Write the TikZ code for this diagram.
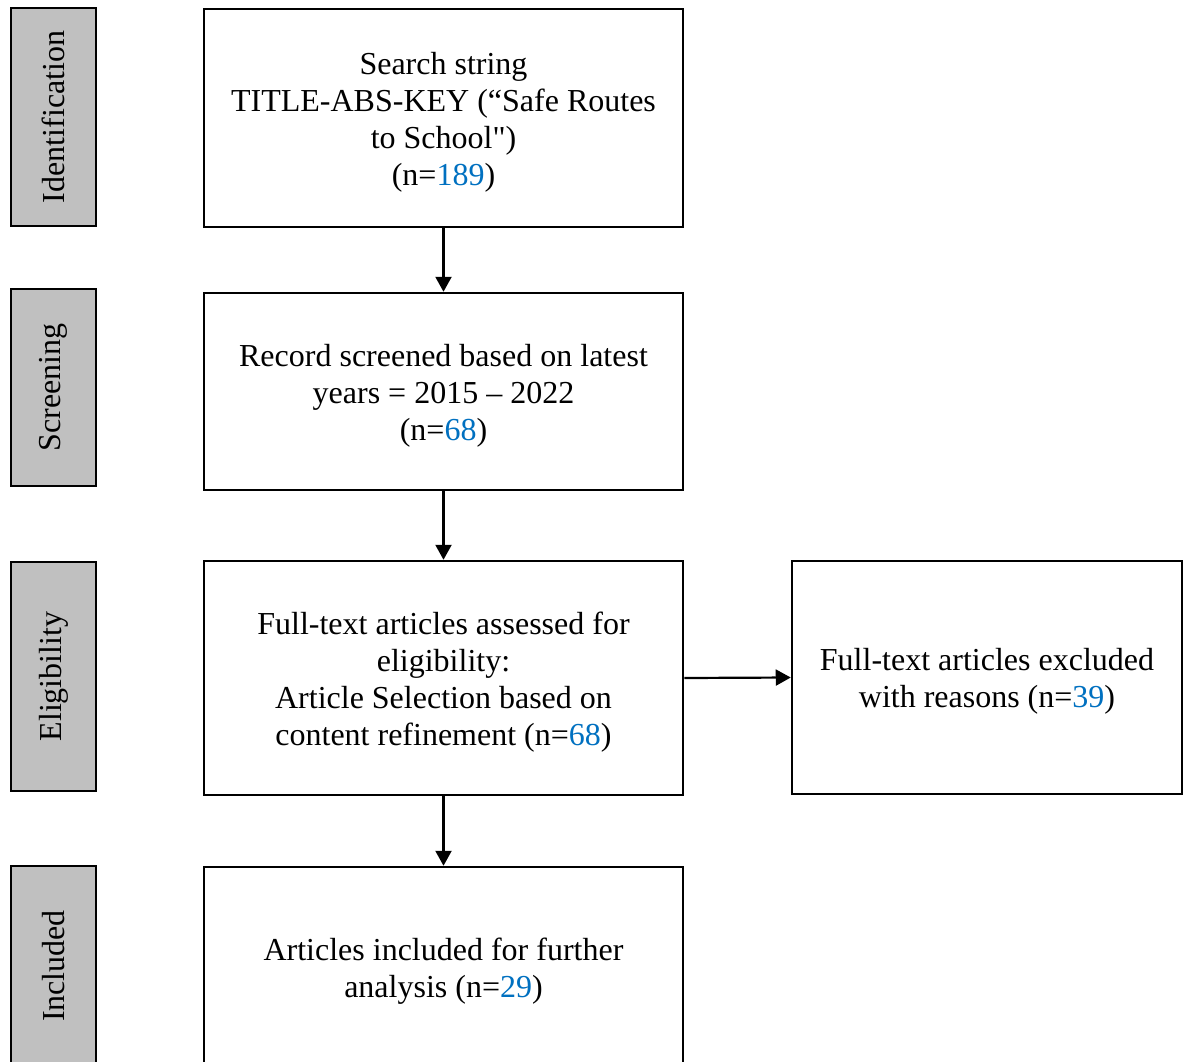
\documentclass[tikz,border=0pt]{standalone}
\usepackage{fontspec}
\setmainfont{Liberation Serif}[Ligatures=TeXOff]
\usetikzlibrary{arrows.meta}
\definecolor{barfill}{RGB}{192,192,192}
\definecolor{numblue}{RGB}{0,112,192}
\newcommand{\nb}[1]{\textcolor{numblue}{#1}}
\newcommand{\topstrut}{\rule{0pt}{30pt}}
\begin{document}
\begin{tikzpicture}[x=1pt,y=1pt,
  mainbox/.style={draw, line width=2.5pt, minimum width=479pt, align=center, inner sep=0pt,
    font=\fontsize{32}{37}\selectfont},
  phasebar/.style={draw, line width=2.5pt, fill=barfill, minimum height=85pt, rotate=90,
    inner sep=0pt, font=\fontsize{32}{37}\selectfont},
  arr/.style={line width=2.2pt, -{Triangle[length=15pt,width=16pt]}}]
\useasboundingbox (0,0) rectangle (1184,-1061);
\clip (0,0) rectangle (1184,-1061);
% phase bars
\node[phasebar, minimum width=218pt] (pid) at (53.5,-117) {Identification};
\node[phasebar, minimum width=197pt] (psc) at (53.5,-387.5) {Screening};
\node[phasebar, minimum width=229pt] (pel) at (53.5,-676.5) {Eligibility};
\node[phasebar, minimum width=200pt] (pin) at (53.5,-966) {Included};
% main boxes
\node[mainbox, minimum height=218pt] (b1) at (443.5,-118)
  {\topstrut Search string\\TITLE-ABS-KEY (“Safe Routes\\to School")\\(n=\nb{189})};
\node[mainbox, minimum height=197pt] (b2) at (443.5,-391.5)
  {\topstrut Record screened based on latest\\years = 2015 – 2022\\(n=\nb{68})};
\node[mainbox, minimum height=234pt] (b3) at (443.5,-678)
  {\topstrut Full-text articles assessed for\\eligibility:\\Article Selection based on\\content refinement (n=\nb{68})};
\node[mainbox, minimum height=200pt] (b4) at (443.5,-967)
  {\topstrut Articles included for further\\analysis (n=\nb{29})};
\node[mainbox, minimum width=390pt, minimum height=233pt] (ex) at (987,-677.5)
  {\topstrut Full-text articles excluded\\with reasons (n=\nb{39})};
% connectors
\draw[arr] (b1.south) -- (b2.north);
\draw[arr] (b2.south) -- (b3.north);
\draw[arr] (b3.south) -- (b4.north);
\draw[arr] (b3.east) -- (ex.west);
\end{tikzpicture}
\end{document}
